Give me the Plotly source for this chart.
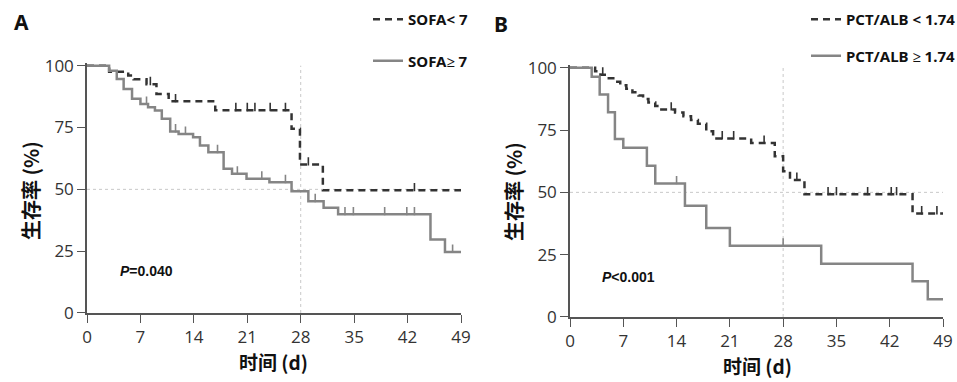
import plotly.graph_objects as go

# ---------------- data ----------------
# Panel A : SOFA
sofa_lo_t = [0, 2.9, 5.4, 6.1, 7.8, 9.1, 10.7, 16.8, 26.8, 27.9, 30.9, 49]
sofa_lo_s = [100, 97.6, 96.0, 94.5, 92.5, 88.6, 85.6, 82.0, 74.5, 60.0, 49.6, 49.6]
sofa_lo_ct = [8.3, 11.6, 19.5, 21.0, 22.0, 24.0, 26.0, 29.0, 42.9]
sofa_lo_cs = [92.5, 85.6, 82.0, 82.0, 82.0, 82.0, 82.0, 60.0, 49.6]

sofa_hi_t = [0, 2.9, 3.9, 4.8, 5.9, 7.0, 8.0, 8.9, 9.8, 10.9, 12.0, 13.9, 14.8,
             15.9, 17.9, 19.0, 20.9, 23.9, 26.8, 29.0, 31.0, 32.9, 45.0, 46.9, 49]
sofa_hi_s = [100, 98.0, 94.6, 90.6, 86.6, 84.5, 83.2, 81.9, 78.5, 73.4, 72.4, 71.1, 67.7,
             65.0, 58.3, 56.3, 54.3, 52.9, 49.2, 45.2, 42.6, 39.9, 29.7, 24.7, 24.7]
sofa_hi_ct = [7.8, 11.6, 12.9, 17.1, 19.7, 22.9, 26.0, 29.9, 33.8, 34.9, 39.0, 41.9, 42.9, 47.9]
sofa_hi_cs = [84.5, 73.4, 72.4, 65.0, 56.3, 54.3, 52.9, 45.2, 39.9, 39.9, 39.9, 39.9, 39.9, 24.7]

# Panel B : PCT/ALB
pct_lo_t = [0, 3.3, 4.0, 4.8, 5.9, 6.6, 7.4, 8.2, 9.0, 9.6, 10.3, 11.2, 12.0, 13.8,
            14.9, 15.9, 16.8, 17.9, 18.8, 23.8, 26.9, 28.0, 28.9, 30.8, 45.0, 49]
pct_lo_s = [100, 98.6, 97.2, 95.8, 94.4, 93.0, 91.6, 90.2, 88.8, 87.4, 86.0, 84.6, 83.2, 82.0,
            80.5, 79.0, 77.5, 74.5, 71.6, 69.8, 64.5, 58.5, 55.0, 49.2, 41.5, 41.5]
pct_lo_ct = [4.3, 13.3, 20.0, 21.5, 25.5, 29.8, 33.9, 35.0, 39.1, 42.2, 42.9, 46.2, 48.2]
pct_lo_cs = [97.2, 83.2, 71.6, 71.6, 69.8, 55.0, 49.2, 49.2, 49.2, 49.2, 49.2, 41.5, 41.5]

pct_hi_t = [0, 2.85, 3.9, 5.0, 5.9, 7.0, 10.1, 11.2, 15.1, 17.9, 21.0, 33.0, 45.0, 47.0, 49]
pct_hi_s = [100, 96.4, 89.3, 82.1, 71.4, 67.9, 60.7, 53.6, 44.6, 35.7, 28.6, 21.4, 14.3, 7.1, 7.1]
pct_hi_ct = [14.0, 28.0]
pct_hi_cs = [53.6, 28.6]

x_ticks = [0, 7, 14, 21, 28, 35, 42, 49]
y_ticks = [0, 25, 50, 75, 100]

# ---------------- style ----------------
W, H = 957, 382
DARK = "#333333"
GREY = "#858585"
AXC = "#555555"
TICK_UP = 1.3  # censor ticks sit just above the curve (in % units)
NUM_FONT = "Open Sans, Noto Sans, sans-serif"
CJK_FONT = "Noto Sans CJK SC"

fig = go.Figure()


def add_group(t, s, ct, cs, name, color, dash, xa, ya, legend):
    fig.add_trace(go.Scatter(
        x=t, y=s, mode="lines", line=dict(color=color, width=2.5, dash=dash, shape="hv"),
        name=name, legend=legend, legendgroup=name, xaxis=xa, yaxis=ya, showlegend=True))
    fig.add_trace(go.Scatter(
        x=ct, y=[v + TICK_UP for v in cs], mode="markers",
        marker=dict(symbol="line-ns", size=6, line=dict(color=color, width=1.6)),
        xaxis=xa, yaxis=ya, showlegend=False, hoverinfo="skip", legend=legend,
        legendgroup=name))


add_group(sofa_lo_t, sofa_lo_s, sofa_lo_ct, sofa_lo_cs, "SOFA< 7", DARK, "7px,5px", "x", "y", "legend")
add_group(sofa_hi_t, sofa_hi_s, sofa_hi_ct, sofa_hi_cs, "SOFA≥ 7", GREY, "solid", "x", "y", "legend")
add_group(pct_lo_t, pct_lo_s, pct_lo_ct, pct_lo_cs, "PCT/ALB < 1.74", DARK, "7px,5px", "x2", "y2", "legend2")
add_group(pct_hi_t, pct_hi_s, pct_hi_ct, pct_hi_cs, "PCT/ALB ≥ 1.74", GREY, "solid", "x2", "y2", "legend2")

# domains from pixel positions
axA = dict(x0=87, x1=461, y0=313, y1=65.7)
axB = dict(x0=570, x1=943, y0=317, y1=67.7)
YMAX = 101.0


def xdom(a):
    return [a["x0"] / W, a["x1"] / W]


def ydom(a):
    top = a["y0"] - (a["y0"] - a["y1"]) * YMAX / 100.0
    return [1 - a["y0"] / H, 1 - top / H]


common_x = dict(range=[0, 49], tickvals=x_ticks, showline=True, linecolor=AXC, linewidth=1.5,
                ticks="outside", ticklen=8, tickcolor=AXC, tickwidth=1.2, showgrid=False,
                zeroline=False, automargin=False,
                tickfont=dict(family=NUM_FONT, size=17, color=DARK))
common_y = dict(range=[0, YMAX], tickvals=y_ticks, showline=True, linecolor=AXC, linewidth=1.5,
                ticks="outside", ticklen=8, tickcolor=AXC, tickwidth=1.2, showgrid=False,
                zeroline=False, automargin=False,
                tickfont=dict(family=NUM_FONT, size=17, color=DARK))

fig.update_layout(
    width=W, height=H, margin=dict(l=0, r=0, t=0, b=0, autoexpand=False),
    paper_bgcolor="white", plot_bgcolor="white",
    xaxis=dict(domain=xdom(axA), anchor="y", **common_x),
    yaxis=dict(domain=ydom(axA), anchor="x", **common_y),
    xaxis2=dict(domain=xdom(axB), anchor="y2", **common_x),
    yaxis2=dict(domain=ydom(axB), anchor="x2", **common_y),
    legend=dict(x=368 / W, y=1 - 3 / H, xanchor="left", yanchor="top", tracegroupgap=19,
                font=dict(family="Noto Sans", size=15, color="#111111", weight="bold"),
                bgcolor="rgba(0,0,0,0)", itemwidth=30),
    legend2=dict(x=806 / W, y=1 - 3 / H, xanchor="left", yanchor="top", tracegroupgap=14,
                 font=dict(family="Noto Sans", size=15, color="#111111", weight="bold"),
                 bgcolor="rgba(0,0,0,0)", itemwidth=30),
    showlegend=True,
)

# dotted reference lines at 50 % and day 28
for xr, yr in (("x", "y"), ("x2", "y2")):
    fig.add_shape(type="line", xref=xr, yref=yr, x0=0, x1=49, y0=50, y1=50,
                  line=dict(color="#c8c8c8", width=1, dash="dot"), layer="below")
    fig.add_shape(type="line", xref=xr, yref=yr, x0=28, x1=28, y0=0, y1=100,
                  line=dict(color="#c8c8c8", width=1, dash="dot"), layer="below")

ann = []
# panel letters
ann.append(dict(text="<b>A</b>", x=12 / W, y=1 - 22 / H, xref="paper", yref="paper",
                xanchor="left", yanchor="middle", showarrow=False,
                font=dict(family="Noto Sans", size=21, color="#111111")))
ann.append(dict(text="<b>B</b>", x=492 / W, y=1 - 24 / H, xref="paper", yref="paper",
                xanchor="left", yanchor="middle", showarrow=False,
                font=dict(family="Noto Sans", size=21, color="#111111")))
# axis titles
for cx, cy in ((30, 190), (513, 192)):
    ann.append(dict(text="<b>生存率 (%)</b>", x=cx / W, y=1 - cy / H, xref="paper", yref="paper",
                    textangle=-90, showarrow=False, xanchor="center", yanchor="middle",
                    font=dict(family=CJK_FONT, size=20, color="#111111")))
for cx, cy in ((273, 361), (757, 365)):
    ann.append(dict(text="<b>时间 (d)</b>", x=cx / W, y=1 - cy / H, xref="paper", yref="paper",
                    showarrow=False, xanchor="center", yanchor="middle",
                    font=dict(family=CJK_FONT, size=19, color="#111111")))
# p-values
ann.append(dict(text="<b><i>P</i>=0.040</b>", x=4.0, y=17.0, xref="x", yref="y",
                xanchor="left", yanchor="middle", showarrow=False,
                font=dict(family="Liberation Sans, Arial", size=14, color="#111111")))
ann.append(dict(text="<b><i>P</i><0.001</b>", x=4.0, y=16.0, xref="x2", yref="y2",
                xanchor="left", yanchor="middle", showarrow=False,
                font=dict(family="Liberation Sans, Arial", size=14, color="#111111")))
fig.update_layout(annotations=ann)

fig.write_html("out.html", config={"displayModeBar": False},
               post_script="document.body.style.margin='0px';document.body.style.overflow='hidden';")
